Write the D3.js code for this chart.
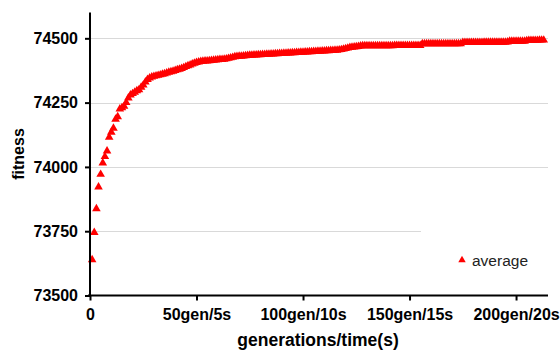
<!DOCTYPE html>
<html><head><meta charset="utf-8">
<script src="https://cdn.jsdelivr.net/npm/d3@7"></script>
<style>
html,body{margin:0;padding:0;background:#fff;}
svg text{font-family:"Liberation Sans",Arial,sans-serif;}
</style></head>
<body><svg id="c" width="560" height="354"></svg>
<script>
const generations = d3.range(1, 214);
const averageFitness = [
73639,73745,73837,73922,73971,74015,74040,74062,74115,74135,
74150,74185,74195,74225,74230,74236,74250,74268,74280,74285,
74290,74296,74300,74310,74318,74330,74340,74346,74350,74352,
74354,74356,74358,74360,74362,74365,74368,74370,74372,74375,
74378,74380,74383,74386,74390,74393,74396,74400,74403,74406,
74408,74410,74411,74412,74412,74413,74414,74415,74416,74417,
74418,74418,74419,74420,74422,74424,74426,74428,74429,74430,
74430,74431,74432,74433,74434,74434,74435,74435,74436,74436,
74437,74437,74438,74438,74439,74439,74440,74440,74441,74441,
74442,74442,74443,74443,74444,74444,74445,74445,74446,74446,
74447,74447,74448,74448,74449,74449,74450,74450,74451,74451,
74452,74452,74453,74453,74454,74454,74455,74456,74458,74460,
74462,74464,74465,74466,74467,74468,74470,74471,74471,74471,
74471,74471,74471,74471,74471,74471,74471,74471,74471,74471,
74471,74471,74472,74472,74472,74472,74472,74472,74472,74472,
74472,74472,74472,74472,74472,74479,74479,74479,74479,74479,
74479,74479,74479,74479,74479,74479,74479,74479,74479,74479,
74479,74479,74479,74479,74484,74484,74484,74484,74484,74484,
74484,74484,74484,74484,74485,74485,74485,74485,74485,74485,
74485,74485,74485,74485,74485,74486,74489,74489,74489,74489,
74489,74489,74489,74489,74491,74492,74492,74492,74492,74492,
74493,74493,74493
];
const yTicks = [73500, 73750, 74000, 74250, 74500];
const xTicks = [0, 50, 100, 150, 200];
const xTickLabels = ["0", "50gen/5s", "100gen/10s", "150gen/15s", "200gen/20s"];
const seriesName = "average";

const svg = d3.select("#c");
const x = d3.scaleLinear().domain([0, 215]).range([90, 548]);
const y = d3.scaleLinear().domain([73500, 74600]).range([295.5, 12.6]);

// gridlines
svg.append("g").selectAll("line").data(yTicks.slice(1)).join("line")
  .attr("x1", 91).attr("x2", 548)
  .attr("y1", d => Math.round(y(d)) + 0.5).attr("y2", d => Math.round(y(d)) + 0.5)
  .attr("stroke", "#d9d9d9").attr("stroke-width", 1);

// legend background box (covers gridline)
svg.append("rect").attr("x", 421).attr("y", 222).attr("width", 130).attr("height", 60).attr("fill", "#fff");

// points
const tri = d3.symbol().type(d3.symbolTriangle).size(32);
svg.append("g").selectAll("path").data(generations).join("path")
  .attr("d", tri)
  .attr("transform", (g, i) => `translate(${x(g)},${y(averageFitness[i])})`)
  .attr("fill", "#ff0000");

// axes
const yAxis = d3.axisLeft(y).tickValues(yTicks).tickSize(5).tickPadding(7).tickFormat(d3.format("d"));
const gy = svg.append("g").attr("transform", "translate(90,0)").call(yAxis);
const xAxis = d3.axisBottom(x).tickValues(xTicks).tickSize(5).tickPadding(8).tickFormat((d, i) => xTickLabels[i]);
const gx = svg.append("g").attr("transform", "translate(0,295.5)").call(xAxis);
[gx, gy].forEach(g => {
  g.select(".domain").attr("stroke", "#000").attr("stroke-width", 2);
  g.selectAll(".tick line").attr("stroke", "#000").attr("stroke-width", 2);
  g.selectAll(".tick text").attr("fill", "#000").attr("font-size", 16).attr("font-weight", "bold")
    .attr("font-family", "Liberation Sans, Arial, sans-serif");
});
gy.select(".domain").attr("d", `M-0,${y(74600)}V${y(73500)}`);
gx.select(".domain").attr("d", `M${x(0)-2},0H${x(215)}`);

// axis titles
svg.append("text").attr("x", 318).attr("y", 346).attr("text-anchor", "middle")
  .attr("font-size", 17.5).attr("font-weight", "bold").attr("fill", "#000").text("generations/time(s)");
svg.append("text").attr("transform", "translate(24,154) rotate(-90)").attr("text-anchor", "middle")
  .attr("font-size", 16).attr("font-weight", "bold").attr("fill", "#000").text("fitness");

// legend
svg.append("path").attr("d", d3.symbol().type(d3.symbolTriangle).size(24))
  .attr("transform", "translate(462,260)").attr("fill", "#ff0000");
svg.append("text").attr("x", 472).attr("y", 266).attr("font-size", 15.5).attr("fill", "#222").text(seriesName);
</script></body></html>
